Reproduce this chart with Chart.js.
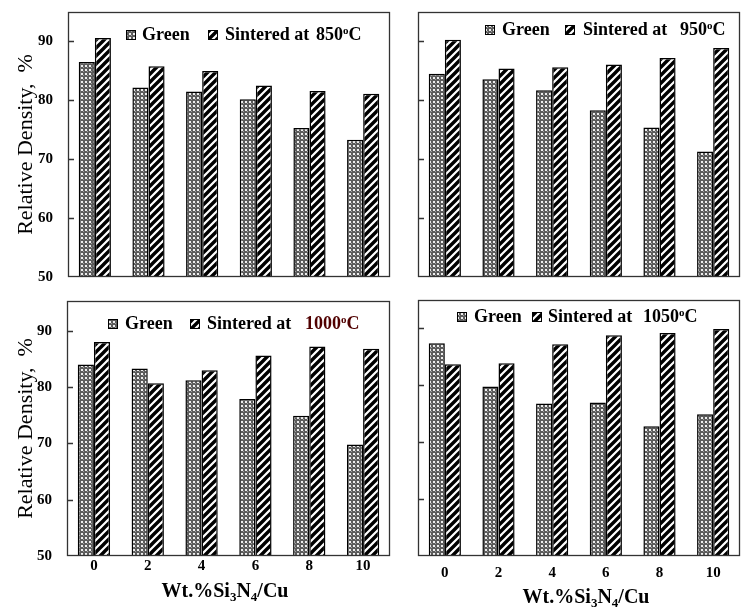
<!DOCTYPE html>
<html>
<head>
<meta charset="utf-8">
<title>Relative density vs Si3N4/Cu</title>
<script src="https://cdn.jsdelivr.net/npm/chart.js@4.4.0/dist/chart.umd.min.js"></script>
<style>
  body { margin: 0; background: #fff; }
  #wrap { position: relative; width: 742px; height: 607px; }
  #wrap canvas { position: absolute; left: 0; top: 0; }
</style>
</head>
<body>
<div id="wrap">
  <canvas id="c850" width="742" height="607"></canvas>
  <canvas id="c950" width="742" height="607"></canvas>
  <canvas id="c1000" width="742" height="607"></canvas>
  <canvas id="c1050" width="742" height="607"></canvas>
</div>
<script>
// Wt.% Si3N4/Cu
const categories = ["0", "2", "4", "6", "8", "10"];
const yTicks = [50, 60, 70, 80, 90];

// relative density, % (green compacts and sintered at each temperature)
const green850 = [86.5, 82.2, 81.5, 80.2, 75.3, 73.3];
const sint850 = [90.6, 85.8, 85.0, 82.5, 81.6, 81.1];
const green950 = [84.5, 83.6, 81.7, 78.3, 75.4, 71.3];
const sint950 = [90.3, 85.4, 85.6, 86.1, 87.2, 88.9];
const green1000 = [84.0, 83.3, 81.2, 77.9, 74.9, 69.8];
const sint1000 = [88.0, 80.7, 83.0, 85.6, 87.2, 86.8];
const green1050 = [87.4, 79.8, 76.8, 77.0, 72.8, 74.9];
const sint1050 = [83.7, 83.9, 87.2, 88.8, 89.2, 89.9];

const FONT = "'Liberation Serif', 'Times New Roman', serif";
const W = 742, H = 607;

// box = plot frame [left, top, right, bottom]
const panels = [
  { id: "c850", temp: "850", green: green850, sint: sint850, box: [68, 12, 390, 277], yMax: 95,
    yLabels: true, xLabels: false, legend: { y: 40, sw1: 126, t1: 142, sw2: 208, t2: 225, t3: 316 } },
  { id: "c950", temp: "950", green: green950, sint: sint950, box: [418, 12, 740, 277], yMax: 95,
    yLabels: false, xLabels: false, legend: { y: 35, sw1: 485, t1: 502, sw2: 565, t2: 583, t3: 680 } },
  { id: "c1000", temp: "1000", green: green1000, sint: sint1000, box: [67, 301, 390, 556], yMax: 95.3,
    yLabels: true, xLabels: true, xPad: 1, titleX: 225, titleY: 597, tempColor: "#500000",
    legend: { y: 329, sw1: 108, t1: 125, sw2: 190, t2: 207, t3: 305 } },
  { id: "c1050", temp: "1050", green: green1050, sint: sint1050, box: [418, 300, 740, 556], yMax: 95,
    yLabels: false, xLabels: true, xPad: 8, titleX: 586, titleY: 603,
    legend: { y: 322, sw1: 457, t1: 474, sw2: 532, t2: 548, t3: 643 } }
];

// Fill patterns
function greenPattern(ctx) {
  const c = document.createElement("canvas");
  c.width = 4; c.height = 4;
  const g = c.getContext("2d");
  g.fillStyle = "#5c5c5c";
  g.fillRect(0, 0, 4, 4);
  g.fillStyle = "#eeeeee";
  g.fillRect(1, 1, 2, 2);
  g.fillStyle = "#a0a0a0";
  g.fillRect(3, 3, 1, 1);
  return ctx.createPattern(c, "repeat");
}

function stripePattern(ctx) {
  const c = document.createElement("canvas");
  c.width = 8; c.height = 8;
  const g = c.getContext("2d");
  g.fillStyle = "#fff";
  g.fillRect(0, 0, 8, 8);
  g.strokeStyle = "#000";
  g.lineWidth = 3.4;
  g.beginPath();
  g.moveTo(-2, 10); g.lineTo(10, -2);
  g.moveTo(-6, 6); g.lineTo(6, -6);
  g.moveTo(2, 14); g.lineTo(14, 2);
  g.stroke();
  return ctx.createPattern(c, "repeat");
}

// frame, inner ticks, legend and x title
const decor = {
  id: "decor",
  afterDraw(chart, args, opts) {
    const p = opts.panel;
    const ctx = chart.ctx;
    const a = chart.chartArea;
    const y = chart.scales.y;
    ctx.save();
    ctx.strokeStyle = "#333";
    ctx.lineWidth = 1.3;
    ctx.strokeRect(a.left + 0.5, a.top + 0.5, a.right - a.left - 1, a.bottom - a.top - 1);
    ctx.beginPath();
    yTicks.slice(1).forEach(v => {
      const py = Math.round(y.getPixelForValue(v)) + 0.5;
      ctx.moveTo(a.left, py);
      ctx.lineTo(a.left + 6, py);
    });
    ctx.stroke();

    // legend
    const L = p.legend;
    const ds = chart.data.datasets;
    ctx.lineWidth = 1;
    ctx.strokeStyle = "#000";
    [[L.sw1, ds[0]], [L.sw2, ds[1]]].forEach(([x, d]) => {
      ctx.fillStyle = d.backgroundColor;
      ctx.fillRect(x, L.y - 10, 10, 10);
      ctx.strokeRect(x + 0.5, L.y - 9.5, 9, 9);
    });
    ctx.fillStyle = "#000";
    ctx.textBaseline = "alphabetic";
    ctx.textAlign = "left";
    ctx.font = "bold 18px " + FONT;
    ctx.fillText("Green", L.t1, L.y);
    ctx.fillText("Sintered at", L.t2, L.y);
    ctx.fillStyle = p.tempColor || "#000";
    ctx.fillText(p.temp, L.t3, L.y);
    let x = L.t3 + ctx.measureText(p.temp).width;
    ctx.font = "bold 11px " + FONT;
    ctx.fillText("o", x, L.y - 6);
    x += ctx.measureText("o").width;
    ctx.font = "bold 18px " + FONT;
    ctx.fillText("C", x, L.y);

    // x axis title with subscripts
    if (p.xLabels) {
      const parts = [["Wt.%Si", 20, 0], ["3", 13, 4], ["N", 20, 0], ["4", 13, 4], ["/Cu", 20, 0]];
      let total = 0;
      parts.forEach(([t, s]) => { ctx.font = "bold " + s + "px " + FONT; total += ctx.measureText(t).width; });
      let tx = p.titleX - total / 2;
      ctx.fillStyle = "#000";
      parts.forEach(([t, s, dy]) => {
        ctx.font = "bold " + s + "px " + FONT;
        ctx.fillText(t, tx, p.titleY + dy);
        tx += ctx.measureText(t).width;
      });
    }
    ctx.restore();
  }
};

function buildChart(p) {
  const canvas = document.getElementById(p.id);
  const ctx = canvas.getContext("2d");
  const [left, top, right, bottom] = p.box;
  const yWidth = p.yLabels ? left : 0;
  const xHeight = p.xLabels ? 30 : 0;

  return new Chart(ctx, {
    type: "bar",
    data: {
      labels: categories,
      datasets: [
        { label: "Green", data: p.green, backgroundColor: greenPattern(ctx),
          borderColor: "#000", borderWidth: 1.5 },
        { label: "Sintered at " + p.temp + "°C", data: p.sint, backgroundColor: stripePattern(ctx),
          borderColor: "#000", borderWidth: 1.5 }
      ]
    },
    options: {
      responsive: false,
      animation: false,
      events: [],
      layout: {
        padding: { left: left - yWidth, top: top, right: W - right, bottom: H - bottom - xHeight }
      },
      datasets: { bar: { categoryPercentage: 0.6, barPercentage: 1.0 } },
      scales: {
        x: {
          display: p.xLabels,
          grid: { display: false, drawTicks: false },
          border: { display: false },
          ticks: { color: "#000", padding: p.xPad || 0, maxRotation: 0,
                   font: { family: FONT, size: 15, weight: "bold" } },
          afterFit: s => { s.height = xHeight; s.paddingLeft = 0; s.paddingRight = 0; }
        },
        y: {
          display: p.yLabels,
          min: 50,
          max: p.yMax,
          grid: { display: false, drawTicks: false },
          border: { display: false },
          ticks: { color: "#000", padding: 15, font: { family: FONT, size: 15, weight: "bold" } },
          afterBuildTicks: s => { s.ticks = yTicks.map(v => ({ value: v })); },
          title: { display: true, text: "Relative Density,  %", color: "#000",
                   padding: { top: 13, bottom: 0 }, font: { family: FONT, size: 22 } },
          afterFit: s => { s.width = yWidth; s.paddingTop = 0; s.paddingBottom = 0; }
        }
      },
      plugins: {
        legend: { display: false },
        tooltip: { enabled: false },
        decor: { panel: p }
      }
    },
    plugins: [decor]
  });
}

panels.forEach(buildChart);
</script>
</body>
</html>
